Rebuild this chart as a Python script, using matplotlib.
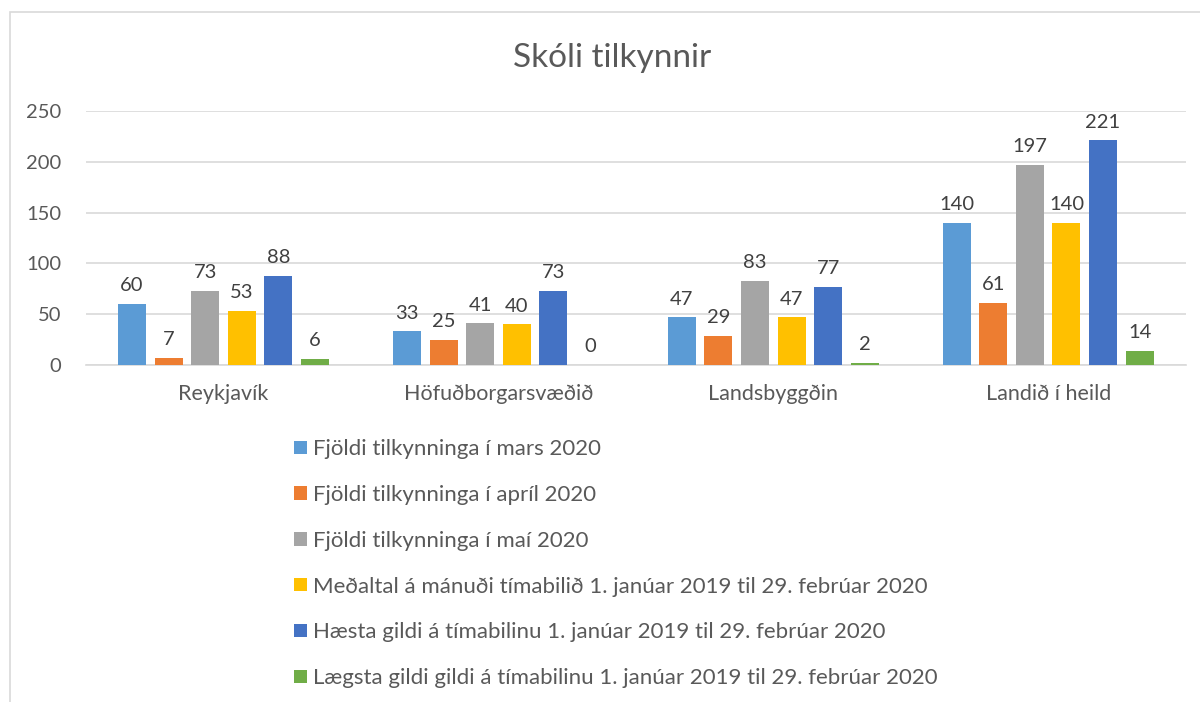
import numpy as np
import matplotlib.pyplot as plt
from matplotlib.patches import Rectangle

plt.rcParams['font.family'] = ['Lato', 'DejaVu Sans']

categories = ['Reykjavík', 'Höfuðborgarsvæðið', 'Landsbyggðin', 'Landið í heild']
series_names = [
    'Fjöldi tilkynninga í mars 2020',
    'Fjöldi tilkynninga í apríl 2020',
    'Fjöldi tilkynninga í maí 2020',
    'Meðaltal á mánuði tímabilið 1. janúar 2019 til 29. febrúar 2020',
    'Hæsta gildi á tímabilinu 1. janúar 2019 til 29. febrúar 2020',
    'Lægsta gildi gildi á tímabilinu 1. janúar 2019 til 29. febrúar 2020',
]
mars = [60, 33, 47, 140]
april = [7, 25, 29, 61]
mai = [73, 41, 83, 197]
medaltal = [53, 40, 47, 140]
haesta = [88, 73, 77, 221]
laegsta = [6, 0, 2, 14]
values = [mars, april, mai, medaltal, haesta, laegsta]
colors = ['#5B9BD5', '#ED7D31', '#A5A5A5', '#FFC000', '#4472C4', '#70AD47']

txt = '#595959'
fig = plt.figure(figsize=(12, 7.02), dpi=100)
ax = fig.add_axes([0.0717, 0.480, 0.9163, 0.362])

x = np.arange(len(categories))
step = 0.133
width = 0.102
for i, (name, vals, c) in enumerate(zip(series_names, values, colors)):
    pos = x + (i - 2.5) * step
    bars = ax.bar(pos, vals, width=width, color=c, label=name, zorder=3)
    for b, v in zip(bars, vals):
        ax.annotate(str(v), (b.get_x() + b.get_width() / 2, v),
                    xytext=(0, 7), textcoords='offset points',
                    ha='center', va='bottom', fontsize=14.5, color='#404040')

ax.set_xlim(-0.5, len(categories) - 0.5)
ax.set_ylim(0, 250)
ax.set_yticks(np.arange(0, 251, 50))
ax.set_xticks(x)
ax.set_xticklabels(categories)
ax.tick_params(axis='y', length=0, labelsize=14.5, colors=txt, pad=18)
ax.tick_params(axis='x', length=0, labelsize=15.5, colors=txt, pad=14)
ax.grid(axis='y', color='#D9D9D9', linewidth=1.2, zorder=0)
for s in ['top', 'right', 'left']:
    ax.spines[s].set_visible(False)
ax.spines['bottom'].set_color('#D9D9D9')
ax.spines['bottom'].set_linewidth(1.2)

fig.text(0.51, 0.918, 'Skóli tilkynnir', ha='center', va='center',
         fontsize=24, color=txt)

fig.legend(loc='upper left', bbox_to_anchor=(0.238, 0.387), ncol=1,
           frameon=False, fontsize=16, labelcolor=txt,
           handlelength=0.55, handleheight=0.55, handletextpad=0.3,
           labelspacing=1.16, borderaxespad=0)

fig.patches.append(Rectangle((0.0083, -0.1), 1.2, 1.083, transform=fig.transFigure,
                             fill=False, edgecolor='#D9D9D9', linewidth=1.2))

fig.savefig('out.png')
